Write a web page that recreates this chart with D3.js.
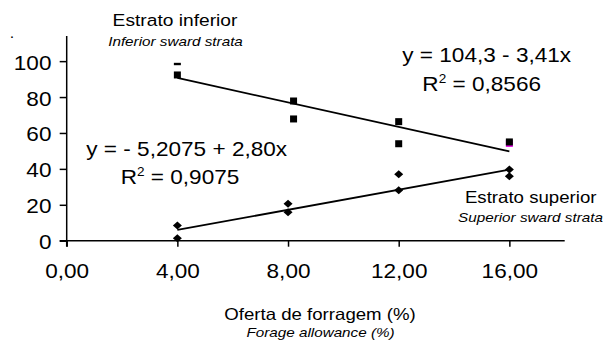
<!DOCTYPE html>
<html>
<head>
<meta charset="utf-8">
<script src="https://cdn.jsdelivr.net/npm/d3@7"></script>
<style>
  body { margin: 0; background: #fff; }
  svg text { font-family: "Liberation Sans", Arial, sans-serif; fill: #000; }
</style>
</head>
<body>
<div id="chart"></div>
<script>
// Forage allowance (%) x values
const xTicks = [0, 4, 8, 12, 16];
const yTicks = [0, 20, 40, 60, 80, 100];

// inferior sward strata (squares)
const inferiorX = [4, 8.2, 8.2, 12, 12, 16];
const inferiorY = [92.3, 77.8, 67.8, 66.3, 54.0, 55.0];
const inferiorDash = [[4, 98.4]];
const inferiorPink = [[16, 54.2]];

// superior sward strata (diamonds)
const superiorX = [4, 4, 8, 8, 12, 12, 16, 16];
const superiorY = [8.4, 1.3, 20.6, 15.8, 37.0, 28.1, 39.6, 35.9];

// regression lines: intercept, slope
const inferiorFit = [104.3, -3.41];
const superiorFit = [-5.2075, 2.80];
const fitRange = [4, 16];

const stretch = 1.13;   // the picture is a bit wider than the fonts
const width = 615, height = 349;
const margin = { top: 36, left: 66.7, right: 50.3, bottom: 108.3 };

const svg = d3.select('#chart').append('svg')
    .attr('width', width)
    .attr('height', height);

const x = d3.scaleLinear().domain([0, 18]).range([margin.left, width - margin.right]);
const y = d3.scaleLinear().domain([0, 114]).range([height - margin.bottom, margin.top]);

const fmt = d => d3.format('.2f')(d).replace('.', ',');

// axes
const yAxis = svg.append('g')
    .attr('transform', `translate(${margin.left},0)`)
    .call(d3.axisLeft(y).tickValues(yTicks).tickSize(7).tickPadding(6.5).tickSizeOuter(0));
yAxis.select('.domain').remove();
yAxis.append('line')
    .attr('x1', 0).attr('x2', 0)
    .attr('y1', y(114)).attr('y2', y(0) + 6)
    .attr('stroke', '#000').attr('stroke-width', 1.5);

const xAxis = svg.append('g')
    .attr('transform', `translate(0,${y(0)})`)
    .call(d3.axisBottom(x).tickValues(xTicks).tickFormat(fmt).tickSize(6).tickPadding(17).tickSizeOuter(0));
xAxis.select('.domain').remove();
xAxis.append('line')
    .attr('x1', x(0) - 7).attr('x2', x(18))
    .attr('stroke', '#000').attr('stroke-width', 1.5);

svg.selectAll('.tick line').attr('stroke', '#000').attr('stroke-width', 1.5);
svg.selectAll('.tick text')
    .style('font-size', '20px')
    .attr('fill', '#000')
    .attr('transform', `scale(${stretch},1)`);
yAxis.selectAll('.tick text').attr('dy', '0.4em');

// regression lines
const fitLine = f => d3.line()
    .x(d => x(d))
    .y(d => y(f[0] + f[1] * d))(fitRange);

svg.append('path').attr('d', fitLine(inferiorFit))
    .attr('fill', 'none').attr('stroke', '#000').attr('stroke-width', 1.8);
svg.append('path').attr('d', fitLine(superiorFit))
    .attr('fill', 'none').attr('stroke', '#000').attr('stroke-width', 1.8);

// markers
svg.selectAll('.pink').data(inferiorPink).join('rect')
    .attr('x', d => x(d[0]) - 3.5).attr('y', d => y(d[1]) - 3.5)
    .attr('width', 7).attr('height', 7)
    .attr('fill', '#e000e0');

svg.selectAll('.sq').data(inferiorX).join('rect')
    .attr('x', d => x(d) - 3.5)
    .attr('y', (d, i) => y(inferiorY[i]) - 3.5)
    .attr('width', 7).attr('height', 7)
    .attr('fill', '#000');

svg.selectAll('.dash').data(inferiorDash).join('rect')
    .attr('x', d => x(d[0]) - 3.5).attr('y', d => y(d[1]) - 1.2)
    .attr('width', 7).attr('height', 2.4)
    .attr('fill', '#000');

const diamond = 'M0,-4L4.5,0L0,4L-4.5,0Z';
svg.selectAll('.dia').data(superiorX).join('path')
    .attr('d', diamond)
    .attr('transform', (d, i) => `translate(${x(d)},${y(superiorY[i])})`)
    .attr('fill', '#000');

// text labels
const label = (txt, cx, by, size, italic) => {
    return svg.append('text')
        .attr('transform', `translate(${cx},${by}) scale(${stretch},1)`)
        .attr('text-anchor', 'middle')
        .style('font-size', size + 'px')
        .style('font-style', italic ? 'italic' : 'normal')
        .text(txt);
};

const rLabel = (val, cx, by) => {
    const t = svg.append('text')
        .attr('transform', `translate(${cx},${by}) scale(${stretch},1)`)
        .attr('text-anchor', 'middle')
        .style('font-size', '20px');
    t.append('tspan').text('R');
    t.append('tspan').attr('dy', -8).style('font-size', '12px').text('2');
    t.append('tspan').attr('dy', 8).text(' = ' + val);
};

label('.', 12, 38, 14, false);
label('Estrato inferior', 175, 26, 17, false);
label('Inferior sward strata', 175.5, 45.7, 13.5, true);
label('y = 104,3 - 3,41x', 486.7, 61.7, 20, false);
rLabel('0,8566', 481.7, 90.7);
label('y = - 5,2075 + 2,80x', 186.7, 155.7, 20, false);
rLabel('0,9075', 180, 184);
label('Estrato superior', 530.7, 203.3, 16.5, false);
label('Superior sward strata', 530.5, 221.7, 13.5, true);
label('Oferta de forragem (%)', 320, 320, 16.5, false);
label('Forage allowance (%)', 320.5, 337, 13.5, true);
</script>
</body>
</html>
